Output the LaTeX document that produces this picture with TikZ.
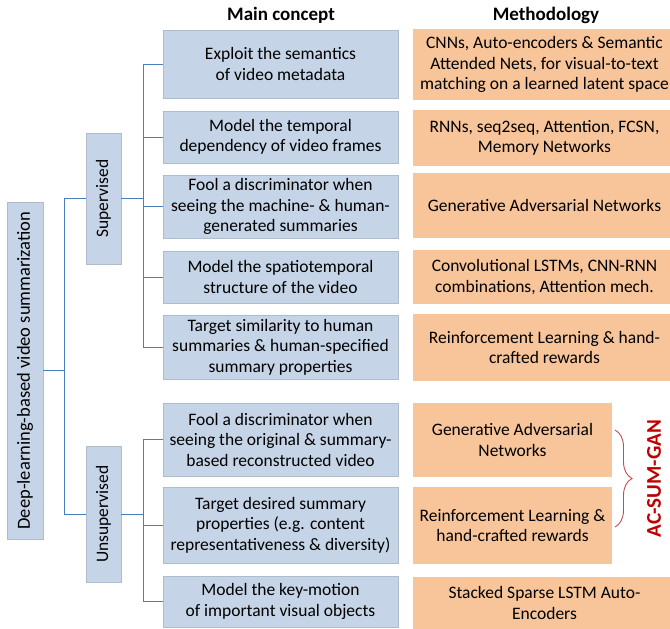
\documentclass[tikz,border=0pt]{standalone}
\usepackage{fontspec}
\setmainfont{Carlito}
\usetikzlibrary{decorations.pathreplacing,shadows}
\definecolor{bfill}{HTML}{C5D5E7}
\definecolor{bdraw}{HTML}{AEBCCB}
\definecolor{ofill}{HTML}{F8C59B}
\definecolor{lcol}{HTML}{4A7EBB}
\definecolor{acred}{HTML}{C00000}
\definecolor{brcol}{HTML}{C0504D}
\begin{document}
\begin{tikzpicture}[x=1pt,y=-1pt,
  font=\fontsize{17.5}{20.5}\selectfont,
  bbox/.style={fill=bfill, draw=bdraw, line width=0.6pt, inner sep=0pt, align=center,
    drop shadow={shadow xshift=1.2pt, shadow yshift=-1.2pt, fill=black!35, opacity=0.5}},
  mbox/.style={bbox, minimum width=235pt},
  vbox/.style={bbox, rotate=90},
  obox/.style={fill=ofill, inner sep=0pt, align=center},
  ofull/.style={obox, minimum width=263pt},
  ohalf/.style={obox, minimum width=199pt},
  conn/.style={draw=lcol, line width=1pt},
  head/.style={font=\fontsize{19}{22}\selectfont\bfseries}]
\clip (0,0) rectangle (670,629);
\fill[white] (0,0) rectangle (670,629);

% headers
\node[head] (h1) at (281,15) {Main concept};
\node[head] (h2) at (546,15) {Methodology};

% root and categories
\node[vbox, minimum width=337pt, minimum height=36pt, font=\fontsize{18.5}{21}\selectfont] (root) at (25,370.5) {Deep-learning-based video summarization};
\node[vbox, minimum width=131pt, minimum height=35pt] (sup) at (103.5,198.5) {Supervised};
\node[vbox, minimum width=136pt, minimum height=35pt] (unsup) at (103.5,514) {Unsupervised};

% main concepts
\node[mbox, minimum height=68pt] (m1) at (280.5,64) {Exploit the semantics\\of video metadata};
\node[mbox, minimum height=52pt] (m2) at (280.5,137) {Model the temporal\\dependency of video frames};
\node[mbox, minimum height=63pt] (m3) at (280.5,206.5) {Fool a discriminator when\\seeing the machine- \& human-\\generated summaries};
\node[mbox, minimum height=52pt] (m4) at (280.5,277) {Model the spatiotemporal\\structure of the video};
\node[mbox, minimum height=64pt] (m5) at (280.5,347) {Target similarity to human\\summaries \& human-specified\\summary properties};
\node[mbox, minimum height=73pt] (u1) at (280.5,439.5) {Fool a discriminator when\\seeing the original \& summary-\\based reconstructed video};
\node[mbox, minimum height=76pt] (u2) at (280.5,525) {Target desired summary\\properties (e.g. content\\representativeness \& diversity)};
\node[mbox, minimum height=51pt] (u3) at (280.5,601.5) {Model the key-motion\\of important visual objects};

% methodologies
\node[ofull, minimum height=71pt] (o1) at (544.5,64.5) {CNNs, Auto-encoders \& Semantic\\Attended Nets, for visual-to-text\\matching on a learned latent space};
\node[ofull, minimum height=56pt] (o2) at (544.5,138) {RNNs, seq2seq, Attention, FCSN,\\Memory Networks};
\node[ofull, minimum height=65pt] (o3) at (544.5,205.5) {Generative Adversarial Networks};
\node[ofull, minimum height=54pt] (o4) at (544.5,277) {Convolutional LSTMs, CNN-RNN\\combinations, Attention mech.};
\node[ofull, minimum height=67pt] (o5) at (544.5,347.5) {Reinforcement Learning \& hand-\\crafted rewards};
\node[ohalf, minimum height=74pt] (o6) at (512.5,440) {Generative Adversarial\\Networks};
\node[ohalf, minimum height=77pt] (o7) at (512.5,525.5) {Reinforcement Learning \&\\hand-crafted rewards};
\node[ofull, minimum height=52pt] (o8) at (544.5,603) {Stacked Sparse LSTM Auto-\\Encoders};

% connectors
\draw[conn] (root.south) -- ++(21,0) coordinate (rj);
\draw[conn] (rj) |- (sup.north);
\draw[conn] (rj) |- (unsup.north);
\draw[conn] (sup.south) -- ++(22,0) coordinate (sj);
\foreach \n in {m1,m2,m3,m4,m5} \draw[conn] (sj) |- (\n.west);
\draw[conn] (unsup.south) -- ++(22,0) coordinate (uj);
\foreach \n in {u1,u2,u3} \draw[conn] (uj) |- (\n.west);

% brace and label
\coordinate (bt) at (615,430);
\coordinate (bb) at (615,527);
\draw[brcol, line width=0.9pt, decorate, decoration={brace, amplitude=17pt, aspect=0.5}] (bt) -- (bb);
\node[rotate=90, text=acred, font=\fontsize{21}{25}\selectfont\bfseries] (ac) at (654,478.5) {AC-SUM-GAN};
\end{tikzpicture}
\end{document}
